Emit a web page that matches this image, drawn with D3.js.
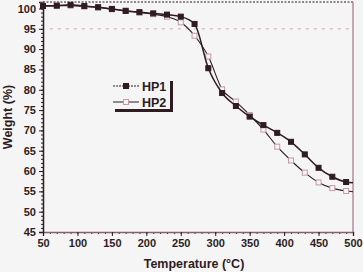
<!DOCTYPE html>
<html>
<head>
<meta charset="utf-8">
<script src="https://cdn.jsdelivr.net/npm/d3@7"></script>
<style>
  body { margin: 0; background: #f5f5f5; }
  svg { display: block; font-family: "Liberation Sans", Arial, sans-serif; }
</style>
</head>
<body>
<div id="chart"></div>
<script>
const temps = [50, 70, 90, 110, 130, 150, 170, 190, 210, 230, 250, 270, 290, 310, 330, 350, 370, 390, 410, 430, 450, 470, 490, 500];
const hp1 = [100.6, 100.7, 100.9, 100.6, 100.3, 99.9, 99.4, 99.1, 98.8, 98.5, 98.0, 96.2, 85.3, 79.2, 76.0, 73.4, 71.3, 69.4, 67.2, 64.1, 60.8, 58.6, 57.3, 57.1];
const hp2 = [100.7, 100.7, 100.7, 100.5, 100.3, 99.8, 99.5, 99.0, 98.6, 98.0, 96.6, 93.3, 88.2, 80.1, 77.1, 73.8, 70.2, 66.0, 62.6, 59.6, 57.2, 55.8, 55.1, 54.9];
const seriesNames = ["HP1", "HP2"];
const xTicks = [50, 100, 150, 200, 250, 300, 350, 400, 450, 500];
const yTicks = [45, 50, 55, 60, 65, 70, 75, 80, 85, 90, 95, 100];
const refLine = 95;

const width = 363, height = 272;
const margin = { top: 2, right: 10, bottom: 40, left: 43 };
const dark = "#2e1c22";
const mauve = "#b48c9c";

const svg = d3.select("#chart").append("svg")
  .attr("width", width)
  .attr("height", height);

svg.append("rect").attr("width", width).attr("height", height).attr("fill", "#f5f5f5");

const x = d3.scaleLinear().domain([50, 500]).range([margin.left, width - margin.right]);
const y = d3.scaleLinear().domain([45, 101.6]).range([height - margin.bottom, margin.top]);

/* dashed reference line at 95 % */
svg.append("line")
  .attr("x1", x(60)).attr("x2", x(500))
  .attr("y1", y(refLine)).attr("y2", y(refLine))
  .attr("stroke", "#cfa6b6").attr("stroke-width", 1)
  .attr("stroke-dasharray", "3,5");

/* frame: top dotted, right mauve */
svg.append("line")
  .attr("x1", x(50)).attr("x2", x(500))
  .attr("y1", y.range()[1]).attr("y2", y.range()[1])
  .attr("stroke", dark).attr("stroke-width", 1.2)
  .attr("stroke-dasharray", "2,1.5");
svg.append("line")
  .attr("x1", x(500)).attr("x2", x(500))
  .attr("y1", y.range()[1]).attr("y2", y.range()[0])
  .attr("stroke", mauve).attr("stroke-width", 1.5);

/* x axis: minor then major */
const xAxisG = svg.append("g").attr("transform", `translate(0,${y.range()[0]})`);
xAxisG.append("g")
  .call(d3.axisBottom(x).tickValues(d3.range(50, 501, 10)).tickSize(2).tickFormat(""))
  .call((g) => g.select(".domain").remove())
  .call((g) => g.selectAll("line").attr("stroke", dark));
xAxisG.append("g")
  .call(d3.axisBottom(x).tickValues(xTicks).tickSize(4).tickPadding(3))
  .call((g) => g.select(".domain").attr("stroke", "#8a5f70").attr("stroke-width", 1.5))
  .call((g) => g.selectAll("line").attr("stroke", dark))
  .call((g) => g.selectAll("text")
    .attr("fill", dark).attr("font-size", 11).attr("font-weight", "bold"));

/* y axis: minor then major */
const yAxisG = svg.append("g").attr("transform", `translate(${x.range()[0]},0)`);
yAxisG.append("g")
  .call(d3.axisLeft(y).tickValues(d3.range(45, 101, 1)).tickSize(2).tickFormat(""))
  .call((g) => g.select(".domain").remove())
  .call((g) => g.selectAll("line").attr("stroke", dark));
yAxisG.append("g")
  .call(d3.axisLeft(y).tickValues(yTicks).tickSize(4).tickPadding(3))
  .call((g) => g.select(".domain").attr("stroke", dark).attr("stroke-width", 1.5))
  .call((g) => g.selectAll("line").attr("stroke", dark))
  .call((g) => g.selectAll("text")
    .attr("fill", dark).attr("font-size", 11).attr("font-weight", "bold"));

/* axis titles */
svg.append("text")
  .attr("x", (x.range()[0] + x.range()[1]) / 2 - 4)
  .attr("y", 268)
  .attr("text-anchor", "middle")
  .attr("fill", dark).attr("font-size", 12.5).attr("font-weight", "bold")
  .text("Temperature (°C)");
svg.append("text")
  .attr("transform", `translate(12,${(y.range()[0] + y.range()[1]) / 2}) rotate(-90)`)
  .attr("text-anchor", "middle")
  .attr("fill", dark).attr("font-size", 12.5).attr("font-weight", "bold")
  .text("Weight (%)");

/* curves */
const series = [
  { name: seriesNames[0], values: hp1, filled: true },
  { name: seriesNames[1], values: hp2, filled: false },
];
const line = d3.line()
  .x((d) => x(d[0]))
  .y((d) => y(d[1]))
  .curve(d3.curveMonotoneX);

const ms = 5;
series.slice().reverse().forEach((s) => {
  const pts = temps.map((t, i) => [t, s.values[i]]);
  svg.append("path")
    .datum(pts)
    .attr("fill", "none")
    .attr("stroke", dark)
    .attr("stroke-width", s.filled ? 1.5 : 1.1)
    .attr("d", line);
  svg.append("g")
    .selectAll("rect")
    .data(pts.slice(0, -1))
    .join("rect")
    .attr("x", (d) => x(d[0]) - ms / 2)
    .attr("y", (d) => y(d[1]) - ms / 2)
    .attr("width", ms)
    .attr("height", ms)
    .attr("fill", s.filled ? dark : "#f5f5f5")
    .attr("stroke", s.filled ? dark : "#c49aab")
    .attr("stroke-width", 1);
});

/* legend with drop shadow */
const lg = svg.append("g").attr("transform", "translate(112,78)");
lg.append("rect").attr("x", 3).attr("y", 3).attr("width", 58).attr("height", 31).attr("fill", dark);
lg.append("rect").attr("x", 0).attr("y", 0).attr("width", 58).attr("height", 31).attr("fill", "#f5f5f5");
series.forEach((s, i) => {
  const ly = 8 + i * 16;
  lg.append("line")
    .attr("x1", 1).attr("x2", 27).attr("y1", ly).attr("y2", ly)
    .attr("stroke", dark).attr("stroke-width", 1)
    .attr("stroke-dasharray", s.filled ? "2,1" : null);
  lg.append("rect")
    .attr("x", 14 - ms / 2).attr("y", ly - ms / 2).attr("width", ms).attr("height", ms)
    .attr("fill", s.filled ? dark : "#f5f5f5")
    .attr("stroke", s.filled ? dark : "#c49aab");
  lg.append("text")
    .attr("x", 30).attr("y", ly + 4.5)
    .attr("fill", dark).attr("font-size", 12.5).attr("font-weight", "bold")
    .text(s.name);
});
</script>
</body>
</html>
